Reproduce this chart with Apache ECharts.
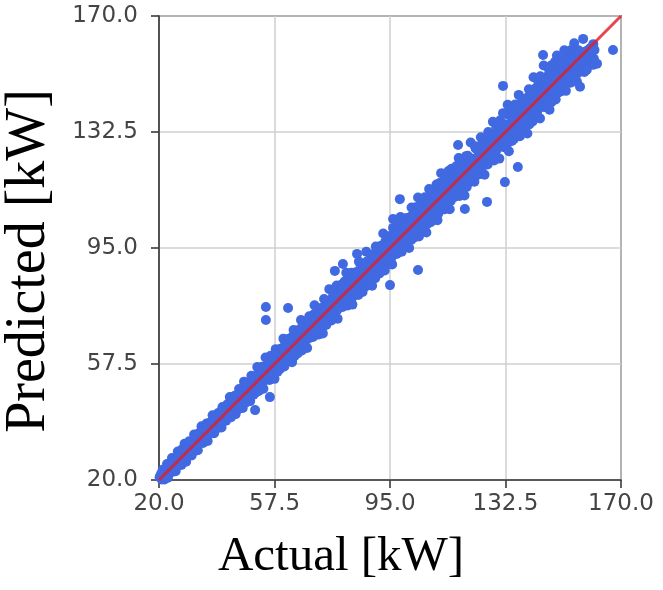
<!DOCTYPE html>
<html>
<head>
<meta charset="utf-8">
<script src="https://cdn.jsdelivr.net/npm/echarts@6/dist/echarts.min.js"></script>
<style>
html,body{margin:0;padding:0;background:#fff;}
#chart{width:663px;height:590px;}
</style>
</head>
<body>
<div id="chart"></div>
<script>
// Axis ticks
const tickValues = [20, 57.5, 95, 132.5, 170];
const axisMin = 20, axisMax = 170, axisStep = 37.5;

// Reference line (y = x)
const idealLine = [[20, 20], [170, 170]];

// Points close to the diagonal: [actual, predicted]
const core = [[21,21.8],[22,21.4],[23,23.9],[24,23.2],[25,25.6],[26,25.1],[27,27.9],[28,27.4],[29,29.3],[30,29.8],[31,31.9],[32,31.2],[33,33.7],[34,33.4],[35,35.2],[36,36.9],[37,36.3],[38,38.8],[39,38.5],[40,40.6],[41,40.1],[42,42.9],[43,42.3],[44,44.4],[45,44.8],[46,46.9],[47,46.2],[48,48.7],[49,48.3],[50,50.5],[51,51.8],[52,51.2],[53,53.9],[54,53.4],[55,55.6],[56,55.1],[57,57.8],[58,57.3],[59,59.5],[60,60.9],[61,60.2],[62,62.7],[63,62.4],[64,64.8],[65,64.1],[66,66.6],[67,66.5],[68,68.9],[69,68.2],[70,70.7],[71,70.4],[72,72.9],[73,72.1],[74,74.6],[75,74.8],[76,76.9],[77,76.3],[78,78.7],[79,78.2],[80,80.9],[81,80.4],[82,82.6],[83,82.1],[84,84.8],[85,84.3],[86,86.7],[87,86.5],[88,88.9],[89,88.1],[90,90.6],[91,90.3],[92,92.8],[93,92.2],[94,94.7],[95,94.6],[96,96.9],[97,96.1],[98,98.5],[99,98.4],[100,100.9],[101,100.2],[102,102.8],[103,102.3],[104,104.6],[105,104.5],[106,106.9],[107,106.1],[108,108.7],[109,108.3],[110,110.8],[111,110.2],[112,112.6],[113,112.4],[114,114.9],[115,114.1],[116,116.7],[117,116.5],[118,118.8],[119,118.2],[120,120.9],[121,120.3],[122,122.6],[123,122.4],[124,124.8],[125,124.1],[126,126.7],[127,126.5],[128,128.9],[129,128.2],[130,130.8],[131,130.3],[132,132.6],[133,132.1],[134,134.9],[135,134.4],[136,136.7],[137,136.2],[138,138.8],[139,138.5],[140,140.6],[141,140.1],[142,142.9],[143,142.3],[144,144.7],[145,144.4],[146,146.8],[147,146.2],[148,148.6],[149,148.3],[150,150.9],[151,150.1],[152,152.7],[153,152.4],[154,154.8],[155,154.2],[156,156.6],[157,156.5],[158,158.3],[159,158.8],[160,159.6],[161,160.9]];

const bandLow = [[20.4,21.3],[20.9,20.2],[21.2,23.3],[21.8,20.2],[22.1,22.4],[22.6,25.2],[22.9,20.7],[23.4,24.6],[23.7,23.3],[24.2,27.1],[24.5,22.7],[24.9,26.6],[25.4,22.8],[25.7,26.3],[26.1,29.2],[26.5,25.4],[26.8,28.7],[27.3,24.9],[27.5,29.9],[28.0,27.1],[28.3,31.7],[28.8,25.9],[29.1,30.2],[29.5,28.0],[29.8,32.5],[30.3,30.1],[30.6,27.9],[31.1,32.7],[31.4,34.7],[31.8,29.9],[32.3,33.1],[32.6,29.6],[33.1,35.3],[33.4,32.1],[33.8,37.4],[34.3,32.0],[34.6,35.9],[35.0,34.4],[35.5,38.3],[35.8,32.6],[36.2,36.6],[36.7,38.7],[37.0,35.3],[37.4,40.9],[37.9,35.1],[38.2,39.2],[38.6,37.8],[39.1,41.6],[39.4,36.9],[39.8,41.2],[40.3,37.0],[40.6,43.6],[41.0,39.8],[41.5,42.4],[41.8,39.2],[42.2,44.5],[42.7,42.4],[43.0,46.8],[43.4,40.3],[43.9,45.7],[44.2,42.3],[44.6,47.2],[44.9,41.3]];

const bandMid = [[45.3,45.8],[45.7,42.9],[46.0,49.4],[46.4,45.3],[46.9,48.8],[47.2,43.3],[47.6,51.8],[48.1,47.5],[48.4,51.0],[48.8,46.4],[49.3,50.2],[49.6,45.5],[50.0,53.7],[50.5,49.0],[50.8,52.2],[51.2,42.6],[51.5,48.3],[51.9,56.5],[52.3,52.2],[52.7,54.9],[53.0,50.1],[53.5,56.6],[53.9,49.5],[54.2,54.9],[54.7,75.9],[54.7,71.7],[54.6,59.6],[55.1,53.3],[55.4,57.4],[55.9,52.3],[56.0,46.8],[56.3,60.2],[56.8,56.1],[57.1,58.7],[57.5,52.7],[57.9,62.3],[58.4,56.3],[58.7,59.1],[59.2,55.8],[59.5,62.4],[59.9,58.7],[60.4,65.7],[60.7,56.7],[61.1,62.3],[61.6,59.0],[61.9,75.6],[62.0,65.6],[62.4,62.0],[62.8,65.1],[63.2,58.1],[63.7,68.5],[64.0,62.1],[64.5,65.3],[64.9,61.6],[65.2,67.9],[65.7,64.8],[66.1,71.7],[66.4,61.9],[66.9,68.4],[67.3,65.1],[67.6,70.9],[68.1,62.7],[68.5,68.7],[68.8,72.9],[69.3,67.9],[69.7,72.2],[70.0,66.2],[70.5,76.5],[70.9,70.4],[71.2,73.0],[71.7,67.0],[72.0,75.5],[72.4,70.4],[72.9,73.5],[73.2,67.4],[73.6,78.5],[74.1,72.5],[74.4,76.5],[74.8,71.6],[75.3,81.7],[75.6,75.4],[76.0,71.6],[76.5,79.5],[76.8,77.8],[77.1,87.6],[77.2,74.5],[77.7,82.9],[78.0,72.1],[78.5,79.4],[78.9,77.6],[79.2,83.1],[79.7,89.8],[79.6,75.9],[80.1,81.8],[80.4,79.6],[80.8,87.0],[81.3,76.4],[81.6,84.0],[82.0,79.6],[82.5,87.0],[82.8,76.7],[83.2,83.5],[83.7,82.0],[84.0,87.2],[84.3,93.1],[84.4,80.5],[84.9,90.6],[85.2,84.6],[85.6,86.9],[86.1,80.8],[86.4,89.2],[86.8,84.3],[87.3,93.8],[87.6,83.4],[88.0,88.5],[88.5,87.4],[88.8,92.8],[89.2,82.8],[89.7,91.7],[90.0,87.0],[90.4,95.5],[90.9,90.6],[91.2,92.8],[91.6,86.8],[92.1,95.7],[92.4,90.2],[92.8,99.7],[93.3,87.7],[93.6,94.4],[94.0,92.5],[94.5,98.8],[94.8,91.4],[95.0,83.0],[95.2,97.5],[95.7,89.7],[96.0,104.4],[96.0,101.5],[96.4,95.5],[96.9,98.1],[97.2,93.1],[97.6,100.7],[98.1,95.5],[98.2,110.8],[98.4,105.0],[98.8,93.8],[99.3,99.7],[99.6,97.7]];

const bandUpper = [[100.0,104.6],[100.5,97.2],[100.8,103.0],[101.2,95.0],[101.7,102.6],[102.0,108.1],[102.4,101.0],[102.9,98.4],[103.2,106.6],[103.6,101.5],[104.1,87.9],[104.1,111.3],[104.4,98.7],[104.8,106.3],[105.3,104.8],[105.6,110.5],[106.0,102.4],[106.5,109.1],[106.8,100.0],[107.2,107.4],[107.7,114.1],[108.0,105.2],[108.4,111.4],[108.9,104.0],[109.2,110.3],[109.6,108.4],[110.1,115.5],[110.4,104.0],[110.8,112.8],[111.3,108.3],[111.6,119.2],[112.0,111.3],[112.5,116.3],[112.8,107.5],[113.2,113.8],[113.7,111.3],[114.0,119.9],[114.4,107.5],[114.9,117.6],[115.2,113.6],[115.6,119.8],[116.1,111.8],[116.4,117.7],[116.8,116.6],[117.1,128.3],[117.3,124.1],[117.6,111.8],[118.0,121.2],[118.5,115.8],[118.8,119.3],[119.3,107.6],[119.2,112.0],[119.7,124.7],[120.0,119.0],[120.4,122.8],[120.9,116.3],[121.2,129.1],[121.6,118.5],[122.1,123.8],[122.4,116.4],[122.8,127.2],[123.3,122.9],[123.6,126.5],[124.0,118.9],[124.5,130.8],[124.8,122.5],[125.2,125.9],[125.7,118.7],[126.0,129.6],[126.5,109.9],[126.4,124.6],[126.9,132.5],[127.2,123.2],[127.6,129.5],[128.1,127.2],[128.4,135.8],[128.8,123.3],[129.3,131.8],[129.6,126.7]];

const bandHigh = [[130.0,134.1],[130.5,123.9],[130.8,131.6],[131.2,128.7],[131.7,147.4],[131.7,138.6],[132.0,127.6],[132.3,116.3],[132.4,134.6],[132.9,132.3],[133.2,141.3],[133.6,126.3],[134.1,137.8],[134.4,132.5],[134.8,135.2],[135.3,130.3],[135.6,141.4],[136.0,132.8],[136.5,121.2],[136.5,138.0],[136.8,144.5],[137.2,131.1],[137.7,140.6],[138.0,136.9],[138.4,143.2],[138.9,134.9],[139.2,139.3],[139.6,132.0],[140.1,146.3],[140.4,137.8],[140.8,143.9],[141.3,135.9],[141.6,150.2],[142.0,141.2],[142.5,144.3],[142.8,139.1],[143.2,148.5],[143.7,136.9],[144.0,146.4],[144.7,157.4],[144.4,143.0],[144.9,154.0],[145.2,140.6],[145.6,146.2],[146.1,150.5],[146.4,144.2],[146.8,139.7],[147.3,154.0],[147.6,148.8],[148.0,144.6],[148.5,152.1],[148.8,143.0],[149.2,157.2],[149.7,149.4],[150.0,152.1],[150.4,145.6],[150.9,156.0],[151.2,149.5],[151.6,158.9],[152.1,145.8],[152.4,153.3],[152.8,149.9],[153.3,157.5],[153.6,148.4],[154.0,156.7],[154.5,153.6],[154.8,161.2],[155.2,151.7],[155.7,148.7],[156.0,157.4],[156.7,147.1],[156.4,154.4],[157.7,162.6],[157.0,152.7],[157.5,157.8],[158.1,151.9],[158.6,157.4],[159.2,155.4],[159.9,159.3],[160.5,155.1],[160.9,154.2],[161.4,159.0],[162.2,154.6],[167.4,159.0]];

const fillLow = [[20.2,20.9],[20.7,22.0],[21.5,21.9],[22.4,23.8],[22.8,22.1],[23.2,22.0],[23.9,25.3],[24.4,24.9],[24.8,23.7],[25.2,26.4],[25.9,26.8],[26.3,24.6],[26.6,27.3],[27.1,28.4],[27.7,26.2],[28.2,29.8],[28.5,27.6],[29.0,30.9],[29.4,29.6],[29.9,28.4],[30.4,32.2],[30.9,30.4],[31.3,29.2],[31.7,32.1],[32.1,34.0],[32.7,31.6],[33.0,34.6],[33.5,33.0],[34.0,35.6],[34.4,33.8],[34.9,36.8],[35.3,33.4],[35.7,36.2],[36.1,38.0],[36.5,35.0],[37.1,37.6],[37.6,39.5],[38.0,36.6],[38.5,40.1],[38.9,37.1],[39.3,40.2],[39.7,39.0],[40.1,42.2],[40.5,38.4],[40.9,41.3],[41.3,43.5],[41.7,40.5],[42.1,41.1],[42.5,44.0],[42.9,40.9],[43.3,43.6],[43.7,42.0],[44.1,45.2],[44.5,43.5],[44.8,44.1],[45.2,47.2],[45.8,44.6],[46.2,46.3],[46.7,44.4],[47.0,48.1],[47.4,46.3],[47.9,49.7],[48.3,45.1],[48.6,48.2],[49.0,50.6],[49.5,47.0],[49.9,49.1],[50.3,52.1],[50.7,47.6],[51.1,50.4],[51.5,53.6],[52.0,50.1],[52.4,48.8],[52.9,53.0],[53.3,55.2],[53.7,51.4],[54.1,52.7],[54.4,56.7],[54.9,53.1],[55.3,55.8],[55.7,58.2],[56.1,54.0],[56.5,56.4],[56.9,53.5],[57.3,59.7],[57.7,56.0],[58.1,58.4],[58.5,55.0],[58.9,60.9],[59.3,57.5],[59.7,59.4],[60.1,62.5],[60.5,59.0]];

const fillMid = [[61.0,64.3],[61.4,61.0],[61.8,58.6],[62.2,63.9],[62.6,60.2],[63.0,66.1],[63.4,63.0],[63.9,59.9],[64.3,67.0],[64.7,63.8],[65.0,60.9],[65.5,66.4],[65.9,68.9],[66.3,64.0],[66.7,66.0],[67.1,69.9],[67.5,63.4],[67.9,67.3],[68.3,71.0],[68.7,65.8],[69.1,70.4],[69.5,66.6],[69.9,69.5],[70.3,73.6],[70.7,68.0],[71.0,71.8],[71.5,75.0],[71.9,69.4],[72.3,73.4],[72.7,68.6],[73.1,75.7],[73.5,71.0],[73.9,74.8],[74.3,70.1],[74.7,77.9],[75.1,73.8],[75.5,76.6],[75.9,72.0],[76.3,77.4],[76.7,74.7],[77.0,80.8],[77.5,77.1],[77.9,75.0],[78.3,81.3],[78.7,76.3],[79.0,79.8],[79.5,82.4],[79.9,77.8],[80.3,84.2],[80.7,80.7],[81.1,78.6],[81.5,82.6],[81.9,85.6],[82.3,81.0],[82.7,78.9],[83.0,84.9],[83.5,80.6],[83.9,86.3],[84.2,83.6],[84.7,79.8],[85.0,87.8],[85.5,85.4],[85.9,82.3],[86.3,88.2],[86.6,85.6],[87.1,82.6],[87.5,90.6],[87.9,87.3],[88.3,84.7],[88.7,89.9],[89.0,86.4],[89.5,93.0],[89.9,89.2],[90.2,85.2],[90.7,92.3],[91.0,88.9],[91.4,94.9],[91.9,90.7],[92.3,87.9],[92.6,94.0],[93.0,91.5],[93.5,97.2],[93.8,89.6],[94.3,95.6],[94.6,93.9],[95.0,98.3],[95.4,91.7],[95.8,96.4],[96.2,99.8],[96.6,93.6],[97.0,97.2],[97.4,95.1],[97.9,102.4],[98.3,97.6],[98.6,94.8],[99.0,101.5],[99.5,96.0],[99.8,102.8]];

const fillUpper = [[100.3,101.6],[100.7,99.0],[101.0,104.8],[101.4,100.3],[101.9,97.6],[102.2,105.6],[102.7,103.9],[103.0,100.0],[103.4,108.2],[103.9,103.3],[104.3,101.0],[104.6,108.6],[105.1,106.0],[105.5,101.5],[105.8,107.7],[106.3,111.4],[106.7,104.9],[107.0,102.6],[107.5,109.8],[107.9,106.8],[108.2,103.3],[108.7,112.9],[109.0,107.7],[109.4,105.1],[109.9,112.0],[110.3,109.4],[110.6,106.0],[111.1,116.0],[111.5,111.6],[111.8,107.4],[112.3,114.4],[112.7,110.0],[113.0,117.6],[113.5,109.0],[113.9,115.5],[114.2,112.7],[114.7,110.2],[115.0,120.6],[115.4,116.2],[115.9,111.5],[116.2,115.4],[116.6,121.5],[117.0,113.3],[117.5,118.9],[117.8,115.7],[118.3,123.4],[118.6,114.0],[119.0,121.6],[119.5,117.3],[119.9,114.7],[120.2,124.8],[120.6,120.0],[121.0,116.8],[121.4,123.9],[121.9,120.9],[122.3,118.3],[122.6,127.9],[123.1,121.0],[123.4,118.6],[123.8,126.0],[124.3,123.5],[124.6,120.2],[125.0,129.0],[125.4,127.1],[125.9,121.9],[126.2,126.9],[126.7,122.0],[127.0,130.9],[127.4,127.6],[127.9,124.1],[128.2,131.0],[128.6,128.5],[129.0,125.5],[129.5,134.0],[129.8,130.2]];

const fillHigh = [[130.3,128.0],[130.7,136.2],[131.0,132.8],[131.4,130.4],[131.9,135.1],[132.2,130.0],[132.7,138.3],[133.0,128.6],[133.4,134.9],[133.9,131.4],[134.2,140.2],[134.6,129.6],[135.0,137.3],[135.4,134.3],[135.8,131.7],[136.2,140.3],[136.6,135.4],[137.0,133.2],[137.5,138.8],[137.9,142.7],[138.2,134.2],[138.6,139.7],[139.0,136.6],[139.5,143.6],[139.8,141.0],[140.2,134.9],[140.6,140.4],[141.1,144.6],[141.4,139.1],[141.9,142.4],[142.2,146.6],[142.6,137.6],[143.0,143.8],[143.5,141.5],[143.8,150.5],[144.2,146.8],[144.6,140.7],[145.0,145.3],[145.4,149.2],[145.9,143.1],[146.2,147.9],[146.6,152.8],[147.1,145.7],[147.4,142.1],[147.8,150.6],[148.3,147.4],[148.6,155.2],[149.0,150.0],[149.5,145.2],[149.8,152.8],[150.2,150.6],[150.7,147.6],[151.0,154.6],[151.4,151.8],[151.9,147.9],[152.2,155.7],[152.6,151.1],[153.0,154.0],[153.5,150.6],[153.8,159.0],[154.2,155.1],[154.7,150.8],[155.0,157.9],[155.5,154.6],[155.9,151.4],[156.2,158.9],[156.8,156.3],[157.3,154.8],[157.9,153.6],[158.4,158.4],[158.9,152.6],[159.5,156.6],[160.1,157.2],[160.7,158.7],[161.2,156.2]];

const allPoints = core.concat(bandLow, bandMid, bandUpper, bandHigh, fillLow, fillMid, fillUpper, fillHigh);

const chart = echarts.init(document.getElementById('chart'), null, {renderer: 'canvas'});

const labelFont = {fontFamily: 'DejaVu Sans', fontSize: 23, color: '#444'};

chart.setOption({
  animation: false,
  backgroundColor: '#fff',
  grid: {
    left: 159, right: 42, top: 16, bottom: 110,
    containLabel: false, outerBoundsMode: 'none',
    show: true, borderColor: '#3a3a3a', borderWidth: 1.6, backgroundColor: 'transparent'
  },
  xAxis: {
    type: 'value', min: axisMin, max: axisMax, interval: axisStep,
    name: 'Actual [kW]', nameLocation: 'middle', nameGap: 53,
    nameTextStyle: {fontFamily: 'Liberation Serif', fontSize: 49, color: '#000', padding: [0, 98, 0, 0]},
    axisLine: {show: true, lineStyle: {color: '#3a3a3a', width: 1.6}},
    axisTick: {show: true, length: 8, lineStyle: {color: '#3a3a3a', width: 1.6}},
    axisLabel: Object.assign({margin: 13, formatter: v => v.toFixed(1)}, labelFont),
    splitLine: {show: true, lineStyle: {color: '#cfcfcf', width: 1.5}}
  },
  yAxis: {
    type: 'value', min: axisMin, max: axisMax, interval: axisStep,
    name: 'Predicted [kW]', nameLocation: 'middle', nameGap: 102,
    nameTextStyle: {fontFamily: 'Liberation Serif', fontSize: 56, color: '#000', padding: [0, 26, 0, 0]},
    axisLine: {show: true, lineStyle: {color: '#3a3a3a', width: 1.6}},
    axisTick: {show: true, length: 8, lineStyle: {color: '#3a3a3a', width: 1.6}},
    axisLabel: Object.assign({margin: 21, formatter: v => v.toFixed(1)}, labelFont),
    splitLine: {show: true, lineStyle: {color: '#cfcfcf', width: 1.5}}
  },
  series: [
    {
      type: 'scatter', data: allPoints, symbolSize: 10,
      itemStyle: {color: '#4169E1', opacity: 1}, z: 2
    },
    {
      type: 'line', data: idealLine, showSymbol: false, symbol: 'none',
      lineStyle: {color: 'rgba(226,28,40,0.82)', width: 3}, z: 3
    }
  ]
});
</script>
</body>
</html>
